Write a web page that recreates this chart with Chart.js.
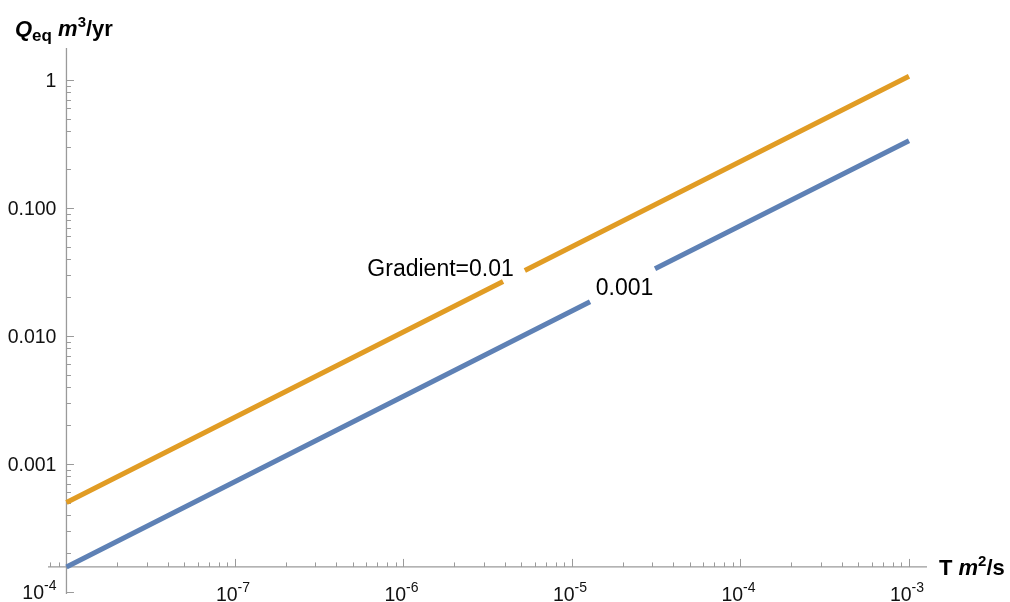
<!DOCTYPE html>
<html><head><meta charset="utf-8">
<script src="https://cdn.jsdelivr.net/npm/chart.js@4.4.0/dist/chart.umd.min.js"></script>
<style>html,body{margin:0;padding:0;background:#fff;overflow:hidden}canvas{display:block}</style>
</head><body>
<canvas id="c" width="1010" height="602"></canvas>
<script>
// ---- data ----
const orangeT = [1e-8, 3.9e-6, null, 5.25e-6, 1e-3];
const orangeQ = [5.0e-4, 0.0267, null, 0.0325, 1.07];
const blueT   = [1e-8, 1.28e-5, null, 3.11e-5, 1e-3];
const blueQ   = [1.57e-4, 0.0185, null, 0.0335, 0.335];
const yTickValues = [1e-4, 1e-3, 1e-2, 0.1, 1];
const yTickLabels = ['10^-4', '0.001', '0.010', '0.100', '1'];
const xTickValues = [1e-7, 1e-6, 1e-5, 1e-4, 1e-3];
const xTickLabels = ['10^-7', '10^-6', '10^-5', '10^-4', '10^-3'];
const seriesLabels = ['Gradient=0.01', '0.001'];
const labelAt = [{x: 1.66e-6, y: 0.0328}, {x: 2.05e-5, y: 0.0233}];
const axesCross = {x: 1e-8, y: 1.57e-4};

const toPts = (xs, ys) => xs.map((x, i) => (x === null ? {x: NaN, y: null} : {x: x, y: ys[i]}));

const FONT = '"Liberation Sans", Arial, Helvetica, sans-serif';
const AXIS = '#9a9a9a';

function drawPow(ctx, str, x, y, size, align) {
  const parts = str.split('^');
  if (parts.length === 1) {
    ctx.font = size + 'px ' + FONT;
    ctx.textAlign = align;
    ctx.fillText(str, x, y);
    return;
  }
  const small = Math.round(size * 0.72);
  ctx.font = size + 'px ' + FONT;
  const w1 = ctx.measureText(parts[0]).width;
  ctx.font = small + 'px ' + FONT;
  const w2 = ctx.measureText(parts[1]).width;
  const tot = w1 + w2;
  let x0 = x;
  if (align === 'center') x0 = x - tot / 2;
  else if (align === 'right') x0 = x - tot;
  ctx.textAlign = 'left';
  ctx.font = size + 'px ' + FONT;
  ctx.fillText(parts[0], x0, y);
  ctx.font = small + 'px ' + FONT;
  ctx.fillText(parts[1], x0 + w1, y - size * 0.45);
}

function runs(ctx, items, x, y) {
  let cx = x;
  ctx.textAlign = 'left';
  for (const it of items) {
    ctx.font = it[1];
    ctx.fillText(it[0], cx, y + (it[2] || 0));
    cx += ctx.measureText(it[0]).width;
  }
}

const axesPlugin = {
  id: 'mmaAxes',
  beforeDatasetsDraw(chart) {
    const ctx = chart.ctx, xs = chart.scales.x, ys = chart.scales.y, ca = chart.chartArea;
    const ax = xs.getPixelForValue(axesCross.x);
    const ay = ys.getPixelForValue(axesCross.y);
    ctx.save();
    ctx.strokeStyle = AXIS;
    ctx.lineWidth = 1.3;
    ctx.beginPath();
    ctx.moveTo(ax, ca.top); ctx.lineTo(ax, ca.bottom + 2);
    ctx.moveTo(ca.left, ay); ctx.lineTo(ca.right, ay);
    ctx.stroke();
    ctx.lineWidth = 1;
    ctx.beginPath();
    for (let d = -5; d <= 1; d++) {
      for (let k = 1; k <= 9; k++) {
        const v = k * Math.pow(10, d);
        if (v < ys.min * 0.999 || v > ys.max) continue;
        const py = Math.round(ys.getPixelForValue(v)) + 0.5;
        const len = k === 1 ? 7.5 : 4.5;
        ctx.moveTo(ax, py); ctx.lineTo(ax + len, py);
      }
    }
    for (let d = -9; d <= -2; d++) {
      for (let k = 1; k <= 9; k++) {
        const v = k * Math.pow(10, d);
        if (v < xs.min || v > xs.max) continue;
        const px = Math.round(xs.getPixelForValue(v)) + 0.5;
        const len = k === 1 ? 8 : 4.5;
        ctx.moveTo(px, ay); ctx.lineTo(px, ay - len);
      }
    }
    ctx.stroke();
    ctx.fillStyle = '#111';
    ctx.textBaseline = 'alphabetic';
    yTickValues.forEach((v, i) => {
      const py = ys.getPixelForValue(v);
      drawPow(ctx, yTickLabels[i], ax - 10, py + 7, 19.5, 'right');
    });
    xTickValues.forEach((v, i) => {
      const px = xs.getPixelForValue(v);
      drawPow(ctx, xTickLabels[i], px - 2, 601, 19.5, 'center');
    });
    ctx.fillStyle = '#000';
    runs(ctx, [
      ['Q', 'italic bold 22px ' + FONT],
      ['eq', 'bold 17px ' + FONT, 5],
      [' ', 'bold 22px ' + FONT],
      ['m', 'italic bold 22px ' + FONT],
      ['3', 'bold 15px ' + FONT, -9],
      ['/yr', 'bold 22px ' + FONT]
    ], 15, 36);
    runs(ctx, [
      ['T ', 'bold 22px ' + FONT],
      ['m', 'italic bold 22px ' + FONT],
      ['2', 'bold 15px ' + FONT, -9],
      ['/s', 'bold 22px ' + FONT]
    ], 939, 575);
    ctx.restore();
  },
  afterDatasetsDraw(chart) {
    const ctx = chart.ctx, xs = chart.scales.x, ys = chart.scales.y;
    ctx.save();
    ctx.fillStyle = '#000';
    ctx.font = '23px ' + FONT;
    ctx.textAlign = 'center';
    ctx.textBaseline = 'middle';
    seriesLabels.forEach((t, i) => {
      ctx.fillText(t, xs.getPixelForValue(labelAt[i].x), ys.getPixelForValue(labelAt[i].y));
    });
    ctx.restore();
  }
};

new Chart(document.getElementById('c'), {
  type: 'scatter',
  data: {
    datasets: [
      {data: toPts(orangeT, orangeQ), borderColor: '#E19C24', backgroundColor: '#E19C24'},
      {data: toPts(blueT, blueQ), borderColor: '#5E81B5', backgroundColor: '#5E81B5'}
    ].map(d => Object.assign(d, {showLine: true, pointRadius: 0, borderWidth: 5, spanGaps: false, borderCapStyle: 'butt', clip: false}))
  },
  options: {
    responsive: false,
    animation: false,
    layout: {padding: {left: 48, right: 83, top: 48, bottom: 10}},
    plugins: {legend: {display: false}, tooltip: {enabled: false}},
    events: [],
    scales: {
      x: {type: 'logarithmic', min: 7.77e-9, max: 1.279e-3, display: false},
      y: {type: 'logarithmic', min: 1e-4, max: 1.778, display: false}
    }
  },
  plugins: [axesPlugin]
});
</script>
</body></html>
